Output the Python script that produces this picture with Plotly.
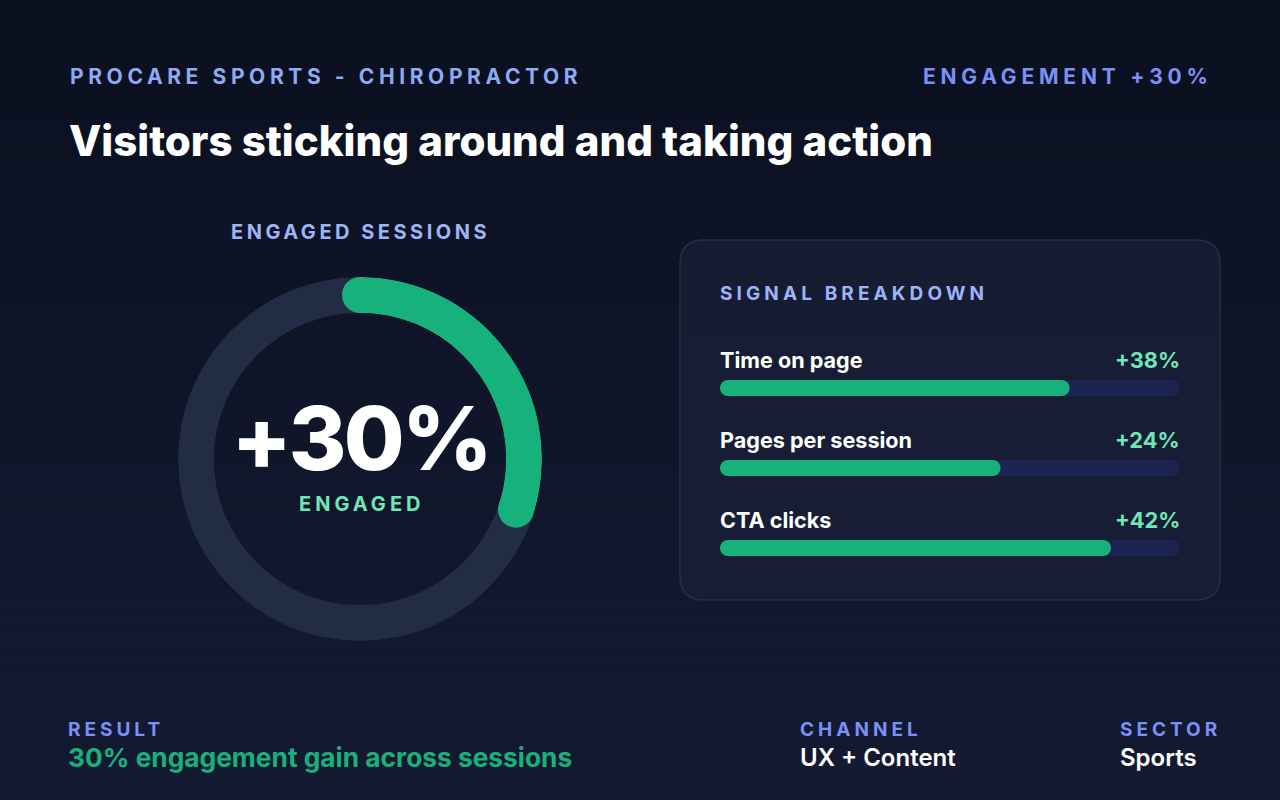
import json
import plotly.graph_objects as go

# ---------------- data ----------------
brand = "PROCARE SPORTS - CHIROPRACTOR"
headline_kpi = "ENGAGEMENT +30%"
title = "Visitors sticking around and taking action"
engaged_pct = 30
signal_labels = ["Time on page", "Pages per session", "CTA clicks"]
signal_lifts = [38, 24, 42]
signal_fill = [76, 61, 85]
result_text = "30% engagement gain across sessions"
channel_text = "UX + Content"
sector_text = "Sports"

# ---------------- style ----------------
W, H = 1280, 800
FONT = "Inter"
GREEN = "#17b27c"
MINT = "#6ee7b7"
TRACK = "#222c45"
BAR_TRACK = "#1b2452"
BLUE1 = "#8eaaf2"
BLUE2 = "#7b90f5"
BLUE3 = "#9db4f7"

fig = go.Figure()

# background gradient bands (pixel axis x/y)
shapes = []
n = 60
top = (11, 16, 32)
bot = (20, 26, 50)
for k in range(n):
    t = k / (n - 1)
    c = tuple(round(top[j] + (bot[j] - top[j]) * t) for j in range(3))
    shapes.append(dict(type="rect", xref="x", yref="y", x0=0, x1=W,
                       y0=k * H / n, y1=(k + 1) * H / n + 1, layer="below",
                       line=dict(width=0), fillcolor="rgb(%d,%d,%d)" % c))

# panel rounded rect
px0, px1, py0, py1, rr = 680, 1220, 240, 600, 24
path = (f"M {px0+rr},{py0} L {px1-rr},{py0} Q {px1},{py0} {px1},{py0+rr} "
        f"L {px1},{py1-rr} Q {px1},{py1} {px1-rr},{py1} L {px0+rr},{py1} "
        f"Q {px0},{py1} {px0},{py1-rr} L {px0},{py0+rr} Q {px0},{py0} {px0+rr},{py0} Z")
shapes.append(dict(type="path", xref="x", yref="y", path=path, layer="below",
                   fillcolor="rgba(24,30,54,0.85)", line=dict(color="#262f4a", width=1.5)))

# invisible anchor trace for pixel axis
fig.add_trace(go.Scatter(x=[0, W], y=[0, H], mode="markers", marker=dict(opacity=0),
                         hoverinfo="skip", showlegend=False, xaxis="x", yaxis="y"))

# ---------------- donut (polar) ----------------
cx, cy, R_out, R_in = 360, 459, 182, 146
fig.add_trace(go.Barpolar(r=[1], theta=[180], width=[360], marker=dict(color=TRACK, line=dict(width=0)),
                          base=0, subplot="polar", showlegend=False, hoverinfo="skip"))
arc_deg = engaged_pct * 3.6
fig.add_trace(go.Barpolar(r=[1], theta=[arc_deg / 2], width=[arc_deg], marker=dict(color=GREEN, line=dict(width=0)),
                          base=0, subplot="polar", showlegend=False, hoverinfo="skip"))
fig.add_trace(go.Scatterpolar(r=[0.5, 0.5], theta=[0, arc_deg], mode="markers",
                              marker=dict(size=R_out - R_in, color=GREEN, line=dict(width=0)),
                              subplot="polar", showlegend=False, hoverinfo="skip"))

# ---------------- signal bars ----------------
bx0, bx1 = 720, 1180
bar_h = 16
row_gap = 80
first_center = 388
cap = (bar_h / 2) * 100 / (bx1 - bx0)
for i, (lab, fill) in enumerate(zip(signal_labels, signal_fill)):
    fig.add_trace(go.Scatter(x=[cap, 100 - cap], y=[i, i], mode="lines+markers",
                             line=dict(color=BAR_TRACK, width=bar_h),
                             marker=dict(size=bar_h, color=BAR_TRACK, line=dict(width=0)),
                             xaxis="x2", yaxis="y2", showlegend=False, hoverinfo="skip"))
    fig.add_trace(go.Scatter(x=[cap, fill - cap], y=[i, i], mode="lines+markers",
                             line=dict(color=GREEN, width=bar_h),
                             marker=dict(size=bar_h, color=GREEN, line=dict(width=0)),
                             xaxis="x2", yaxis="y2", showlegend=False, hoverinfo="skip"))

# ---------------- annotations ----------------
ann = []
spacing = {}


def add(text, x, y, size, color, weight=700, anchor="left", ls=None, xref="x", yref="y"):
    ann.append(dict(text=text, x=x, y=y, xref=xref, yref=yref, xanchor=anchor, yanchor="middle",
                    align=anchor, showarrow=False, borderpad=0, borderwidth=0,
                    font=dict(family=FONT, size=size, color=color, weight=weight)))
    if ls is not None:
        spacing[len(ann) - 1] = ls


add(brand, 70, 76, 21, BLUE1, 700, "left", 4.6)
add(headline_kpi, 1213, 76, 21, BLUE2, 700, "right", 4.8)
add(title, 69, 140, 42, "#ffffff", 800, "left", 0)
add("ENGAGED SESSIONS", cx, 232, 20, BLUE3, 700, "center", 3.5)
add("+%d%%" % engaged_pct, cx, 438, 88, "#ffffff", 800, "center", -2.7)
add("ENGAGED", cx + 1, 504, 20, MINT, 700, "center", 4)
add("SIGNAL BREAKDOWN", 720, 293, 19, BLUE3, 700, "left", 4.1)
for i, (lab, lift) in enumerate(zip(signal_labels, signal_lifts)):
    add(lab, 0, i - 28 / row_gap, 21.6, "#ffffff", 700, "left", None, "x2", "y2")
    add("+%d%%" % lift, 100, i - 28 / row_gap, 21.8, MINT, 700, "right", None, "x2", "y2")
add("RESULT", 68, 729, 19, BLUE2, 700, "left", 4)
add(result_text, 68, 757, 26.3, GREEN, 700, "left", None)
add("CHANNEL", 800, 729, 19, BLUE2, 700, "left", 4)
add(channel_text, 800, 757, 24, "#ffffff", 600, "left", None)
add("SECTOR", 1120, 729, 19, BLUE2, 700, "left", 4)
add(sector_text, 1120, 757, 24, "#ffffff", 600, "left", None)

# ---------------- layout ----------------
y2_top = first_center - row_gap / 2
y2_bot = first_center + row_gap * 2.5
fig.update_layout(
    width=W, height=H, margin=dict(l=0, r=0, t=0, b=0),
    paper_bgcolor="#0e1428", plot_bgcolor="rgba(0,0,0,0)",
    shapes=shapes, annotations=ann, showlegend=False,
    xaxis=dict(domain=[0, 1], range=[0, W], visible=False, fixedrange=True),
    yaxis=dict(domain=[0, 1], range=[H, 0], visible=False, fixedrange=True),
    xaxis2=dict(domain=[bx0 / W, bx1 / W], range=[0, 100], visible=False, anchor="y2", fixedrange=True),
    yaxis2=dict(domain=[1 - y2_bot / H, 1 - y2_top / H], range=[2.5, -0.5], visible=False,
                anchor="x2", fixedrange=True),
    polar=dict(
        domain=dict(x=[(cx - R_out) / W, (cx + R_out) / W], y=[1 - (cy + R_out) / H, 1 - (cy - R_out) / H]),
        hole=R_in / R_out, bgcolor="rgba(0,0,0,0)",
        radialaxis=dict(range=[0, 1], visible=False, showgrid=False),
        angularaxis=dict(rotation=90, direction="clockwise", visible=False, showgrid=False),
    ),
    hovermode=False,
)

post = """
var gd = document.getElementById('{plot_id}');
var sp = %s;
function applySp(){
  gd.querySelectorAll('g.annotation').forEach(function(a){
    var i = a.getAttribute('data-index');
    if (sp[i] !== undefined) {
      var t = a.querySelector('text');
      if (t) t.style.letterSpacing = sp[i] + 'px';
    }
  });
}
applySp();
gd.on('plotly_afterplot', applySp);
""" % json.dumps({str(k): v for k, v in spacing.items()})

fig.write_html("out.html", config=dict(displayModeBar=False, staticPlot=True), post_script=post)
